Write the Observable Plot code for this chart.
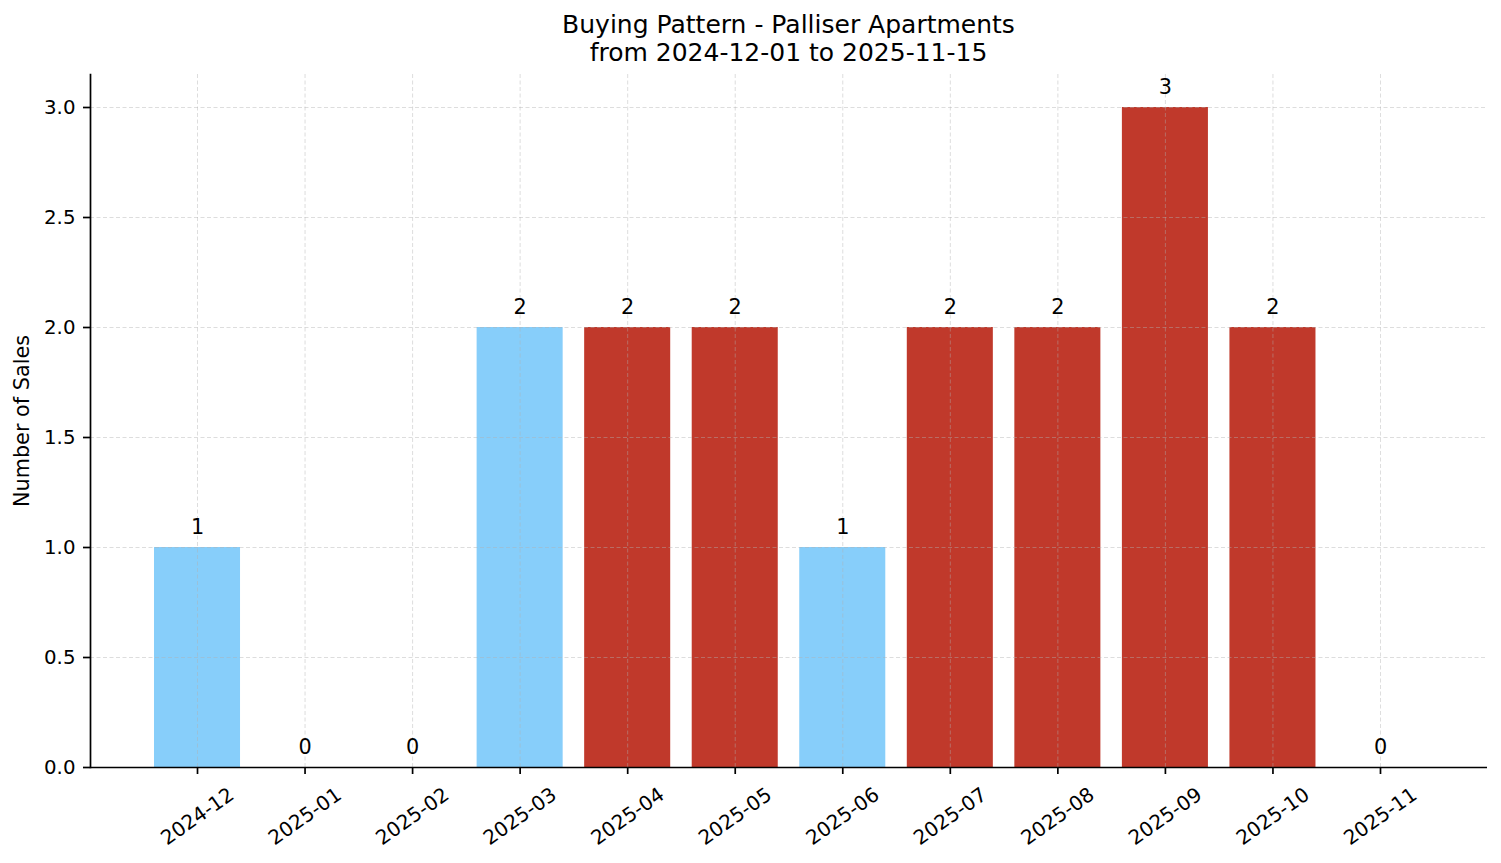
<!DOCTYPE html>
<html>
<head>
<meta charset="utf-8">
<script src="https://cdn.jsdelivr.net/npm/d3@7"></script>
<script src="https://cdn.jsdelivr.net/npm/@observablehq/plot@0.6"></script>
<style>
  html, body { margin: 0; padding: 0; background: #fff; overflow: hidden; }
  #title {
    box-sizing: border-box;
    height: 67px;
    padding: 11px 14px 0 90px;
    text-align: center;
    font-family: "DejaVu Sans", sans-serif;
    font-size: 25px;
    line-height: 28px;
    color: #000;
  }
  svg { display: block; }
</style>
</head>
<body>
<div id="title">Buying Pattern - Palliser Apartments<br>from 2024-12-01 to 2025-11-15</div>
<div id="chart"></div>
<script>
const months = ["2024-12","2025-01","2025-02","2025-03","2025-04","2025-05","2025-06","2025-07","2025-08","2025-09","2025-10","2025-11"];
const sales = [1, 0, 0, 2, 2, 2, 1, 2, 2, 3, 2, 0];
const barColors = ["#87CEFA","#87CEFA","#87CEFA","#87CEFA","#c0392b","#c0392b","#87CEFA","#c0392b","#c0392b","#c0392b","#c0392b","#c0392b"];
const yTicks = [0, 0.5, 1.0, 1.5, 2.0, 2.5, 3.0];
const yLabel = "Number of Sales";

const data = months.map((m, i) => ({month: m, sales: sales[i], color: barColors[i]}));
const font = "DejaVu Sans, sans-serif";
const gridStyle = {stroke: "#b0b0b0", strokeOpacity: 0.55, strokeWidth: 0.8, strokeDasharray: "4,2.5"};

const chart = Plot.plot({
  width: 1501,
  height: 796,
  marginTop: 7,
  marginBottom: 96,
  marginLeft: 90,
  marginRight: 14,
  style: {fontFamily: font, background: "#fff", color: "#000"},
  x: {type: "band", domain: months, paddingInner: 0.2, paddingOuter: 0.595, round: false, axis: null},
  y: {type: "linear", domain: [0, 3.15], axis: null},
  color: {type: "identity"},
  marks: [
    Plot.barY(data, {x: "month", y: "sales", fill: "color"}),
    Plot.gridY(yTicks, gridStyle),
    Plot.gridX(months, gridStyle),
    Plot.text(data, {x: "month", y: "sales", text: d => String(d.sales), dy: -14, lineAnchor: "bottom", fontSize: 20.8, fill: "#000"}),
    Plot.axisY(yTicks, {tickFormat: d => d.toFixed(1), tickSize: 7, tickPadding: 8, fontSize: 19.8, stroke: "#000", strokeWidth: 1.7, fill: "#000", label: null}),
    Plot.axisX(months, {tickSize: 7, text: null, stroke: "#000", strokeWidth: 1.7, label: null}),
    Plot.text(months, {x: d => d, frameAnchor: "bottom", dy: 49, rotate: -35, textAnchor: "middle", lineAnchor: "middle", fontSize: 20, fill: "#000"}),
    Plot.text([yLabel], {frameAnchor: "left", dx: -68, rotate: -90, textAnchor: "middle", lineAnchor: "middle", fontSize: 20.8, fill: "#000"}),
    Plot.ruleY([0], {stroke: "#000", strokeWidth: 1.7}),
    Plot.frame({anchor: "left", stroke: "#000", strokeWidth: 1.7})
  ]
});
document.getElementById("chart").appendChild(chart);
</script>
</body>
</html>
